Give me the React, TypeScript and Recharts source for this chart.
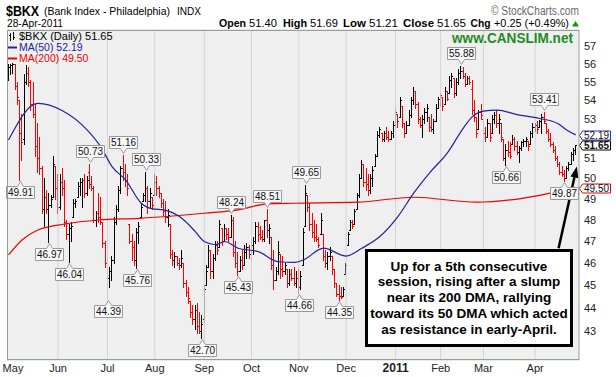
import React from 'react';
import {
  ComposedChart,
  Bar,
  Line,
  XAxis,
  YAxis,
  CartesianGrid,
  ReferenceDot,
  ReferenceLine,
} from 'recharts';

// ---- price bars (Apr 29 2010 .. Apr 28 2011), one entry per session ----
const opens = [
  55.4, 55.8, 55.9, 56.0, 54.8, 54.0, 52.3, 52.0, 55.0, 55.5,
  55.0, 53.8, 53.3, 51.6, 51.0, 50.5, 48.5, 49.1, 48.5, 48.7,
  49.1, 50.6, 49.5, 48.6, 49.8, 49.5, 47.9, 47.3, 47.6, 48.1,
  48.8, 49.1, 49.6, 49.8, 49.9, 49.3, 50.3, 49.7, 49.5, 48.0,
  48.3, 48.1, 47.9, 46.9, 46.0, 45.3, 45.6, 46.1, 47.9, 48.5,
  49.4, 50.5, 50.3, 49.9, 47.8, 47.0, 46.7, 46.1, 47.4, 48.1,
  48.9, 49.2, 49.5, 48.9, 49.1, 49.2, 49.8, 49.5, 49.3, 48.8,
  48.4, 48.1, 47.8, 46.4, 46.1, 46.3, 46.0, 45.9, 46.0, 45.1,
  44.7, 44.3, 43.8, 43.5, 43.9, 43.2, 43.0, 43.5, 45.0, 45.8,
  46.6, 45.6, 46.2, 46.8, 46.7, 47.6, 47.0, 47.6, 47.3, 47.2,
  48.0, 46.5, 46.0, 45.6, 46.1, 45.9, 46.5, 46.7, 46.4, 46.8,
  47.0, 47.7, 47.3, 47.2, 47.1, 48.0, 47.5, 47.2, 45.9, 45.2,
  45.6, 46.4, 45.7, 45.6, 45.7, 45.1, 45.5, 45.3, 45.1, 45.3,
  44.9, 45.9, 47.7, 49.2, 48.6, 47.8, 47.4, 47.2, 47.1, 47.3,
  47.3, 46.3, 46.0, 46.3, 46.3, 45.7, 45.1, 44.6, 44.5, 44.5,
  45.5, 46.8, 47.5, 47.9, 47.8, 48.5, 49.2, 50.0, 50.7, 49.8,
  49.7, 49.4, 50.0, 50.6, 51.1, 52.2, 52.3, 52.0, 52.3, 52.1,
  52.0, 52.3, 52.7, 53.3, 53.1, 53.7, 52.8, 52.3, 52.7, 53.2,
  54.0, 54.5, 53.8, 53.0, 52.7, 53.0, 53.4, 53.1, 52.6, 52.5,
  52.9, 53.6, 54.1, 54.2, 53.8, 54.5, 54.4, 55.1, 55.2, 54.4,
  55.0, 55.5, 55.6, 55.3, 54.9, 55.2, 54.6, 53.5, 53.1, 52.5,
  53.4, 53.0, 52.3, 52.1, 52.8, 52.3, 53.0, 53.2, 52.8, 52.8,
  52.0, 51.0, 51.4, 51.3, 51.7, 52.0, 51.6, 51.3, 51.5, 51.8,
  51.9, 51.9, 51.7, 52.3, 52.6, 52.7, 52.6, 52.9, 53.1, 52.8,
  52.4, 52.0, 51.7, 51.4, 51.0, 50.7, 50.3, 50.2, 50.0, 50.5,
  50.7, 51.2, 51.40,
];

const highs = [
  56.0, 56.0, 56.05, 56.0, 55.0, 54.0, 53.3, 55.4, 55.9, 55.8,
  55.1, 55.0, 53.8, 52.8, 52.1, 50.6, 50.0, 49.4, 49.3, 49.2,
  51.1, 50.6, 50.2, 50.2, 50.5, 49.9, 48.0, 47.8, 47.9, 49.0,
  49.0, 49.8, 50.0, 50.0, 50.2, 50.1, 50.73, 50.1, 49.6, 48.4,
  49.3, 49.1, 47.9, 47.0, 46.4, 45.8, 46.3, 48.1, 48.7, 49.6,
  50.6, 51.16, 50.7, 50.2, 47.8, 47.3, 47.0, 47.6, 47.9, 48.8,
  49.3, 50.33, 49.6, 49.5, 49.1, 50.2, 50.1, 49.6, 49.3, 49.0,
  48.9, 48.5, 47.8, 46.6, 46.5, 46.3, 46.2, 46.6, 46.0, 45.2,
  44.9, 44.3, 44.1, 44.1, 44.2, 43.8, 43.7, 45.0, 45.9, 46.8,
  46.6, 46.4, 47.0, 47.0, 48.0, 47.6, 47.8, 47.6, 47.6, 48.24,
  48.1, 47.0, 46.5, 46.3, 46.6, 46.8, 46.9, 46.8, 47.1, 47.2,
  47.9, 47.9, 47.7, 47.5, 48.0, 48.51, 47.8, 47.2, 46.6, 45.8,
  47.0, 46.4, 46.3, 46.0, 45.7, 45.7, 45.7, 45.8, 45.6, 45.7,
  45.6, 47.6, 49.65, 49.2, 48.8, 48.3, 48.0, 47.8, 47.2, 48.3,
  47.3, 46.6, 46.5, 46.7, 46.3, 45.7, 45.1, 45.0, 44.9, 44.9,
  46.0, 47.4, 48.0, 48.0, 48.5, 49.3, 50.2, 50.9, 50.7, 50.5,
  50.2, 50.2, 50.6, 51.2, 52.4, 52.6, 52.3, 52.4, 52.6, 52.4,
  52.4, 52.9, 53.6, 53.3, 54.2, 53.7, 52.8, 52.9, 53.5, 54.2,
  54.7, 54.5, 53.9, 53.1, 53.2, 53.6, 53.8, 53.1, 53.3, 53.0,
  53.8, 54.2, 54.4, 54.2, 54.7, 54.5, 55.3, 55.5, 55.2, 55.2,
  55.7, 55.88, 55.8, 55.5, 55.3, 55.3, 55.1, 54.0, 53.1, 53.5,
  53.8, 53.0, 52.6, 53.0, 52.8, 53.2, 53.4, 53.5, 53.3, 52.8,
  52.0, 51.7, 51.9, 51.8, 52.2, 52.1, 51.9, 51.6, 51.9, 52.0,
  52.1, 51.9, 52.4, 52.8, 52.8, 52.9, 52.95, 53.3, 53.41, 52.8,
  52.5, 52.3, 51.8, 51.6, 51.1, 50.8, 50.6, 50.4, 50.6, 50.8,
  51.3, 51.5, 51.69,
];

const lows = [
  55.1, 55.4, 55.5, 54.6, 53.8, 49.91, 50.9, 51.7, 54.9, 54.8,
  53.5, 53.1, 51.1, 50.3, 50.2, 48.3, 47.7, 48.3, 46.97, 48.6,
  49.1, 49.0, 48.3, 48.5, 49.2, 47.7, 47.1, 46.04, 47.0, 48.1,
  48.6, 49.1, 49.2, 48.6, 49.1, 49.2, 49.5, 49.4, 47.9, 47.7,
  47.9, 47.8, 46.7, 45.8, 44.39, 44.9, 45.2, 46.0, 47.8, 48.4,
  49.3, 49.9, 49.6, 49.2, 46.9, 46.1, 45.9, 45.76, 46.9, 48.1,
  48.9, 48.9, 48.3, 48.6, 48.5, 49.2, 49.2, 49.1, 48.6, 48.2,
  47.9, 47.7, 46.2, 45.9, 45.8, 45.9, 45.7, 45.8, 44.9, 44.5,
  44.2, 43.6, 43.3, 43.1, 42.9, 42.9, 42.70, 43.4, 45.0, 45.8,
  45.3, 45.3, 46.1, 46.4, 46.7, 46.8, 47.0, 47.1, 47.0, 47.2,
  46.3, 45.8, 45.43, 45.6, 45.7, 45.9, 46.2, 46.2, 46.1, 46.4,
  46.9, 47.0, 47.1, 47.0, 47.0, 47.2, 46.9, 45.7, 44.8, 45.2,
  45.5, 45.3, 45.4, 45.5, 44.9, 45.0, 45.2, 45.0, 44.9, 44.66,
  44.8, 45.9, 47.7, 48.4, 47.5, 47.2, 47.0, 47.0, 46.7, 47.3,
  46.1, 45.8, 45.7, 46.1, 45.5, 44.9, 44.5, 44.35, 44.4, 44.5,
  45.5, 46.8, 47.5, 47.6, 47.8, 48.5, 49.1, 50.0, 49.6, 49.4,
  49.2, 49.3, 49.6, 50.6, 51.1, 52.1, 51.9, 51.9, 52.0, 51.9,
  52.0, 52.1, 52.6, 52.6, 53.1, 52.6, 52.1, 52.3, 52.7, 53.1,
  53.8, 53.6, 52.8, 52.6, 52.1, 52.8, 52.9, 52.4, 52.4, 52.3,
  52.9, 53.6, 53.7, 53.5, 53.8, 54.0, 54.4, 54.7, 54.2, 54.3,
  54.9, 55.2, 55.2, 54.8, 54.9, 54.9, 53.3, 52.9, 52.1, 52.5,
  53.0, 52.1, 51.9, 52.1, 51.9, 52.3, 52.8, 52.6, 52.3, 51.9,
  50.9, 50.66, 51.1, 51.0, 51.7, 51.4, 51.2, 50.8, 51.4, 51.6,
  51.6, 51.4, 51.7, 52.1, 52.4, 52.3, 52.6, 52.3, 52.8, 52.3,
  51.9, 51.6, 51.3, 50.9, 50.6, 50.2, 50.1, 49.87, 50.0, 50.4,
  50.7, 50.9, 51.21,
];

const closes = [
  55.8, 55.9, 56.0, 54.8, 54.2, 52.3, 51.8, 55.0, 55.5, 55.0,
  53.8, 53.3, 51.6, 51.0, 50.5, 48.5, 49.1, 48.5, 48.7, 49.0,
  50.7, 49.5, 48.6, 49.8, 49.5, 47.9, 47.3, 47.6, 47.7, 48.8,
  48.9, 49.6, 49.8, 49.9, 49.3, 49.9, 49.7, 49.5, 48.0, 48.3,
  48.1, 47.9, 46.9, 46.0, 45.3, 45.6, 46.1, 47.9, 48.5, 49.4,
  50.5, 50.3, 49.9, 49.5, 47.0, 46.7, 46.1, 47.4, 47.7, 48.6,
  49.2, 49.5, 48.9, 49.3, 48.7, 49.8, 49.5, 49.3, 48.8, 48.4,
  48.1, 48.2, 46.4, 46.1, 46.3, 46.0, 45.9, 46.2, 45.1, 44.7,
  44.4, 43.8, 43.5, 43.9, 43.2, 43.0, 43.3, 44.8, 45.6, 46.6,
  45.6, 46.2, 46.8, 46.6, 47.8, 47.0, 47.6, 47.3, 47.2, 48.0,
  46.5, 46.0, 45.6, 46.1, 45.9, 46.5, 46.7, 46.4, 46.8, 47.0,
  47.7, 47.3, 47.2, 47.1, 48.0, 47.5, 47.6, 45.9, 45.2, 45.6,
  46.5, 45.7, 45.6, 45.9, 45.1, 45.5, 45.3, 45.1, 45.3, 44.9,
  45.4, 47.4, 49.3, 48.6, 47.8, 47.4, 47.2, 47.1, 46.8, 48.0,
  46.3, 46.0, 46.3, 46.5, 45.7, 45.1, 44.6, 44.5, 44.45, 44.8,
  45.9, 47.3, 47.9, 47.7, 48.4, 49.2, 50.0, 50.7, 49.8, 49.7,
  49.4, 50.0, 50.4, 51.1, 52.2, 52.5, 52.0, 52.3, 52.1, 52.0,
  52.3, 52.7, 53.4, 52.9, 54.0, 52.8, 52.3, 52.7, 53.2, 54.0,
  54.5, 53.8, 53.0, 52.7, 53.0, 53.4, 53.6, 52.6, 52.5, 52.9,
  53.6, 54.1, 54.3, 53.7, 54.5, 54.1, 55.1, 55.3, 54.4, 55.0,
  55.5, 55.6, 55.3, 54.9, 55.2, 55.0, 53.5, 53.1, 52.3, 53.4,
  53.2, 52.3, 52.1, 52.8, 52.1, 53.0, 53.2, 52.8, 53.0, 52.1,
  51.0, 51.4, 51.3, 51.1, 52.0, 51.6, 51.3, 51.5, 51.8, 51.9,
  52.0, 51.6, 52.3, 52.6, 52.7, 52.5, 52.9, 53.1, 52.9, 52.4,
  52.0, 51.7, 51.4, 51.0, 50.7, 50.3, 50.2, 50.0, 50.5, 50.7,
  51.2, 51.4, 51.65,
];

// ---- moving averages (session index -> value) ----
const ma50Idx = [0, 13, 24, 35, 41, 46, 52, 59, 64, 69, 77, 83, 87, 92, 96, 102, 111, 120, 127, 131, 140, 150, 157, 165, 173, 180, 187, 195, 202, 206, 211, 217, 226, 236, 244, 248, 252];
const ma50Vals = [51.93, 53.84, 53.45, 52.44, 51.58, 50.58, 49.92, 48.78, 48.51, 48.46, 48.06, 47.43, 46.97, 46.82, 46.97, 46.66, 46.5, 46.04, 46.01, 46.12, 46.66, 46.3, 46.66, 47.2, 48.14, 49.27, 50.26, 51.27, 52.53, 53.13, 53.43, 53.48, 53.25, 53.04, 52.78, 52.44, 52.19];
const ma200Idx = [0, 6, 13, 25, 40, 58, 73, 87, 102, 115, 127, 155, 180, 208, 229, 241, 252];
const ma200Vals = [46.35, 47.04, 47.51, 47.79, 47.98, 48.06, 48.17, 48.3, 48.46, 48.75, 48.78, 48.83, 49.07, 48.83, 49.03, 49.27, 49.5];

// ---- axis ticks ----
const monthTickIdx = [2, 22, 44, 65, 87, 108, 129, 150, 172, 192, 211, 234];
const monthLabels = ['May', 'Jun', 'Jul', 'Aug', 'Sep', 'Oct', 'Nov', 'Dec', '2011', 'Feb', 'Mar', 'Apr'];
const yTicks = [43, 44, 45, 46, 47, 48, 49, 50, 51, 52, 53, 54, 55, 56, 57];

// ---- price flags ----
const flagIdx = [5, 18, 27, 36, 44, 51, 57, 61, 86, 99, 102, 115, 129, 132, 147, 201, 221, 238, 247];
const flagVals = [49.91, 46.97, 46.04, 50.73, 44.39, 51.16, 45.76, 50.33, 42.70, 48.24, 45.43, 48.51, 44.66, 49.65, 44.35, 55.88, 50.66, 53.41, 49.87];
const flagBelow = [true, true, true, false, true, false, true, false, true, false, true, false, true, false, true, false, true, false, true];

const lastMa50 = 52.19;
const lastClose = 51.65;
const lastMa200 = 49.5;

// arrow annotation endpoints (session index, price)
const arrowFrom = { x: 244.4, y: 46.66 };
const arrowTo = { x: 252.5, y: 50.58 };

const X_MIN = -0.666;
const X_MAX = 253.47;
const Y_MIN = 41.78;
const Y_MAX = 57.89;

const FONT = '"Liberation Sans", Arial, sans-serif';

const ma50Map = new Map(ma50Idx.map((k, j) => [k, ma50Vals[j]]));
const ma200Map = new Map(ma200Idx.map((k, j) => [k, ma200Vals[j]]));

const data = closes.map((c, i) => ({
  i,
  open: opens[i],
  high: highs[i],
  low: lows[i],
  close: c,
  range: [lows[i], highs[i]],
  up: i === 0 || c >= closes[i - 1],
  ma50: ma50Map.has(i) ? ma50Map.get(i) : null,
  ma200: ma200Map.has(i) ? ma200Map.get(i) : null,
}));

// y labels that sit under a last-value tag are hidden (as in the original)
const tagVals = [lastMa50, lastClose, lastMa200];
const visibleYLabels = yTicks.filter(
  (v) => !tagVals.some((t) => Math.abs(Math.log(v) - Math.log(t)) < 0.007)
);

function OhlcBar(props: any) {
  const { x, y, width, height, payload } = props;
  if (!payload || x == null || y == null || height == null || isNaN(y)) return null;
  const top = Math.min(y, y + height);
  const bottom = Math.max(y, y + height);
  const lh = Math.log(payload.high);
  const ll = Math.log(payload.low);
  const span = lh - ll;
  const pos = (v: number) => (span > 0 ? top + ((bottom - top) * (lh - Math.log(v))) / span : top);
  const px = Math.floor(x + (width || 0) / 2);
  const color = payload.up ? '#000000' : '#ff0000';
  const t = Math.round(top);
  const b = Math.round(bottom);
  const yo = Math.round(pos(payload.open));
  const yc = Math.round(pos(payload.close));
  return (
    <g shapeRendering="crispEdges">
      <rect x={px} y={t} width={1} height={Math.max(1, b - t + 1)} fill={color} />
      <rect x={px - 1} y={Math.min(yo, b)} width={1} height={1} fill={color} />
      <rect x={px + 1} y={Math.min(yc, b)} width={1} height={1} fill={color} />
    </g>
  );
}

function Flag(props: any) {
  const { cx, cy, text, below } = props;
  if (cx == null || cy == null) return null;
  const x0 = Math.round(cx) + 0.5;
  const w = 28;
  const h = 12;
  const n = 3;
  const l = x0 - w / 2;
  const r = x0 + w / 2;
  let d: string;
  let ty: number;
  if (below) {
    const tip = Math.round(cy) + 1.5;
    const t = tip + 5;
    const b = t + h;
    d = `M${l},${t}H${x0 - n}L${x0},${tip}L${x0 + n},${t}H${r}V${b}H${l}Z`;
    ty = t + 9.5;
  } else {
    const tip = Math.round(cy) - 1.5;
    const b = tip - 5;
    const t = b - h;
    d = `M${l},${t}H${r}V${b}H${x0 + n}L${x0},${tip}L${x0 - n},${b}H${l}Z`;
    ty = t + 9.5;
  }
  return (
    <g>
      <path d={d} fill="#f8f8f8" stroke="#9a9a9a" strokeWidth={1} />
      <text x={x0} y={ty} textAnchor="middle" fontSize={10} fill="#111" fontFamily={FONT}>
        {text}
      </text>
    </g>
  );
}

function YLabel(props: any) {
  const { cx, cy, text } = props;
  if (cx == null || cy == null) return null;
  return (
    <text x={cx + 5} y={cy + 4} fontSize={11} fill="#222" fontFamily={FONT}>
      {text}
    </text>
  );
}

function SideTag(props: any) {
  const { cx, cy, text, border, bold } = props;
  if (cx == null || cy == null) return null;
  const x0 = Math.round(cx) + 0.5;
  const yc = Math.round(cy) + 0.5;
  const h = 9;
  const w = 31;
  const d = `M${x0},${yc}L${x0 + 3},${yc - h / 2}H${x0 + w}V${yc + h / 2}H${x0 + 3}Z`;
  return (
    <g>
      <path d={d} fill="#ffffff" stroke={border} strokeWidth={1} />
      <text x={x0 + 4.5} y={yc + 3.6} fontSize={10} fontWeight={bold ? 'bold' : 'normal'} fill="#111" fontFamily={FONT}>
        {text}
      </text>
    </g>
  );
}

function ArrowShape(props: any) {
  const { x1, y1, x2, y2 } = props;
  if ([x1, y1, x2, y2].some((v) => v == null || isNaN(v))) return null;
  const dx = x2 - x1;
  const dy = y2 - y1;
  const len = Math.hypot(dx, dy) || 1;
  const ux = dx / len;
  const uy = dy / len;
  const hl = 11;
  const hw = 4;
  const bx = x2 - ux * hl;
  const by = y2 - uy * hl;
  return (
    <g>
      <line x1={x1} y1={y1} x2={bx} y2={by} stroke="#000" strokeWidth={2.5} />
      <polygon
        points={`${x2},${y2} ${bx - uy * hw},${by + ux * hw} ${bx + uy * hw},${by - ux * hw}`}
        fill="#000"
      />
    </g>
  );
}

function MonthTick(props: any) {
  const { x, y, payload } = props;
  const k = monthTickIdx.indexOf(payload.value);
  const label = k >= 0 ? monthLabels[k] : '';
  const bold = label === '2011';
  return (
    <text
      x={x}
      y={y + 12}
      textAnchor="middle"
      fontSize={bold ? 12 : 11}
      fontWeight={bold ? 'bold' : 'normal'}
      fill="#222"
      fontFamily={FONT}
    >
      {label}
    </text>
  );
}

export default function App() {
  return (
    <div
      style={{
        position: 'absolute',
        left: 0,
        top: 0,
        width: 616,
        height: 377,
        background: '#ffffff',
        fontFamily: FONT,
        overflow: 'hidden',
      }}
    >
      <ComposedChart
        width={616}
        height={377}
        data={data}
        margin={{ top: 30, right: 7, bottom: 0, left: 7 }}
      >
        <CartesianGrid vertical={false} stroke="#d4d4d4" fill="#efefef" fillOpacity={1} />
        {monthTickIdx.slice(1).map((t) => (
          <ReferenceLine key={'g' + t} x={t} stroke="#d4d4d4" strokeWidth={1} />
        ))}
        <XAxis
          dataKey="i"
          type="number"
          domain={[X_MIN, X_MAX]}
          allowDataOverflow
          ticks={monthTickIdx}
          interval={0}
          height={17}
          axisLine={false}
          tickLine={false}
          tickSize={0}
          tickMargin={0}
          tick={(p: any) => <MonthTick {...p} />}
        />
        <YAxis
          orientation="right"
          type="number"
          scale="log"
          domain={[Y_MIN, Y_MAX]}
          allowDataOverflow
          ticks={yTicks}
          interval={0}
          width={30}
          axisLine={false}
          tickLine={{ stroke: '#888' }}
          tickSize={3}
          tickMargin={2}
          tick={false}
        />
        <Bar dataKey="range" barSize={2} shape={(p: any) => <OhlcBar {...p} />} isAnimationActive={false} />
        <Line
          dataKey="ma200"
          type="monotone"
          stroke="#ee0000"
          strokeWidth={1.2}
          dot={false}
          activeDot={false}
          connectNulls
          isAnimationActive={false}
        />
        <Line
          dataKey="ma50"
          type="monotone"
          stroke="#22229a"
          strokeWidth={1.2}
          dot={false}
          activeDot={false}
          connectNulls
          isAnimationActive={false}
        />
        {flagIdx.map((k, j) => (
          <ReferenceDot
            key={'f' + k}
            x={k}
            y={flagVals[j]}
            ifOverflow="visible"
            shape={(p: any) => <Flag {...p} text={flagVals[j].toFixed(2)} below={flagBelow[j]} />}
          />
        ))}
        <ReferenceLine
          segment={[arrowFrom, arrowTo]}
          ifOverflow="visible"
          shape={(p: any) => <ArrowShape {...p} />}
        />
        {visibleYLabels.map((v) => (
          <ReferenceDot
            key={'y' + v}
            x={X_MAX}
            y={v}
            ifOverflow="visible"
            shape={(p: any) => <YLabel {...p} text={String(v)} />}
          />
        ))}
        <ReferenceDot
          x={X_MAX}
          y={lastMa50}
          ifOverflow="visible"
          shape={(p: any) => <SideTag {...p} text={lastMa50.toFixed(2)} border="#3030b0" />}
        />
        <ReferenceDot
          x={X_MAX}
          y={lastClose}
          ifOverflow="visible"
          shape={(p: any) => <SideTag {...p} text={lastClose.toFixed(2)} border="#000000" bold />}
        />
        <ReferenceDot
          x={X_MAX}
          y={lastMa200}
          ifOverflow="visible"
          shape={(p: any) => <SideTag {...p} text={lastMa200.toFixed(2)} border="#ee0000" />}
        />
      </ComposedChart>

      <svg
        width={616}
        height={377}
        style={{ position: 'absolute', left: 0, top: 0, pointerEvents: 'none' }}
        fontFamily={FONT}
      >
        {/* header */}
        <text x={6} y={15.5} fontSize={15} fontWeight="bold" fill="#000" textLength={33} lengthAdjust="spacingAndGlyphs">$BKX</text>
        <text x={44} y={14.5} fontSize={11} fill="#000" textLength={126} lengthAdjust="spacingAndGlyphs">(Bank Index - Philadelphia)</text>
        <text x={177} y={14.5} fontSize={11} fill="#000" textLength={24} lengthAdjust="spacingAndGlyphs">INDX</text>
        <text x={491} y={14.5} fontSize={12} fill="#6a6a6a" textLength={88} lengthAdjust="spacingAndGlyphs">© StockCharts.com</text>
        <text x={7} y={27} fontSize={11} fill="#000" textLength={56} lengthAdjust="spacingAndGlyphs">28-Apr-2011</text>
        <text x={219} y={27} fontSize={11} fontWeight="bold" textLength={27} lengthAdjust="spacingAndGlyphs">Open</text>
        <text x={249} y={27} fontSize={11} textLength={28} lengthAdjust="spacingAndGlyphs">51.40</text>
        <text x={283} y={27} fontSize={11} fontWeight="bold" textLength={24} lengthAdjust="spacingAndGlyphs">High</text>
        <text x={310} y={27} fontSize={11} textLength={28} lengthAdjust="spacingAndGlyphs">51.69</text>
        <text x={343} y={27} fontSize={11} fontWeight="bold" textLength={23} lengthAdjust="spacingAndGlyphs">Low</text>
        <text x={369} y={27} fontSize={11} textLength={29} lengthAdjust="spacingAndGlyphs">51.21</text>
        <text x={403} y={27} fontSize={11} fontWeight="bold" textLength={31} lengthAdjust="spacingAndGlyphs">Close</text>
        <text x={437} y={27} fontSize={11} textLength={29} lengthAdjust="spacingAndGlyphs">51.65</text>
        <text x={470.5} y={27} fontSize={11} fontWeight="bold" textLength={20} lengthAdjust="spacingAndGlyphs">Chg</text>
        <text x={494} y={27} fontSize={11} textLength={75} lengthAdjust="spacingAndGlyphs">+0.25 (+0.49%)</text>
        <polygon points="572,26.5 579,26.5 575.5,21" fill="#00a000" />

        {/* plot frame */}
        <rect x={7.5} y={30.5} width={571.5} height={329} fill="none" stroke="#94a094" strokeWidth={1} />

        {/* legend */}
        <g stroke="#000" strokeWidth={1} shapeRendering="crispEdges">
          <line x1={10.5} y1={33} x2={10.5} y2={41} />
          <line x1={9} y1={35.5} x2={10.5} y2={35.5} />
          <line x1={13.5} y1={32} x2={13.5} y2={40} />
          <line x1={13.5} y1={37.5} x2={15} y2={37.5} />
        </g>
        <text x={19} y={40} fontSize={11} fill="#000">$BKX (Daily) 51.65</text>
        <line x1={8} y1={47.5} x2={17} y2={47.5} stroke="#22229a" strokeWidth={2} />
        <text x={19} y={51} fontSize={10.5} fill="#22229a">MA(50) 52.19</text>
        <line x1={8} y1={58.5} x2={17} y2={58.5} stroke="#ee0000" strokeWidth={2} />
        <text x={19} y={62} fontSize={10.5} fill="#ee0000">MA(200) 49.50</text>

        <text x={452} y={43} fontSize={14} fontWeight="bold" fill="#1e8c1e" textLength={121} lengthAdjust="spacingAndGlyphs">www.CANSLIM.net</text>
      </svg>

      <div
        style={{
          position: 'absolute',
          left: 365,
          top: 249,
          width: 208,
          height: 98,
          boxSizing: 'border-box',
          border: '3px solid #000',
          background: '#ffffff',
          display: 'flex',
          alignItems: 'center',
          justifyContent: 'center',
          textAlign: 'center',
          fontWeight: 'bold',
          fontSize: 13.5,
          lineHeight: '15.8px',
          color: '#000',
          fontFamily: FONT,
        }}
      >
        <div>
          Up for a 5th consecutive
          <br />
          session, rising after a slump
          <br />
          near its 200 DMA, rallying
          <br />
          toward its 50 DMA which acted
          <br />
          as resistance in early-April.
        </div>
      </div>
    </div>
  );
}
